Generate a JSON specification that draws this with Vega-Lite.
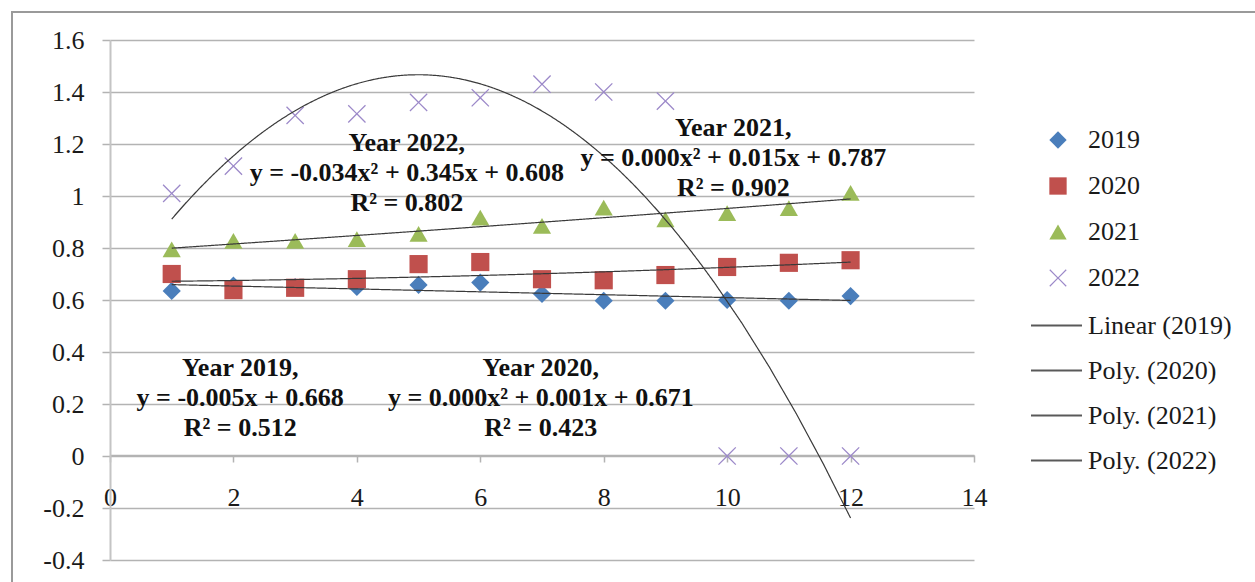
{
  "$schema": "https://vega.github.io/schema/vega-lite/v6.json",
  "width": 864,
  "height": 520,
  "autosize": {"type": "none"},
  "padding": {"left": 110, "top": 40, "right": 281, "bottom": 22},
  "background": "white",
  "config": {"view": {"stroke": null}, "font": "Liberation Serif"},
  "data": {
    "values": [
      {"x": 1, "v": 0.635, "year": "2019", "trend": "Linear (2019)"},
      {"x": 2, "v": 0.655, "year": "2019", "trend": "Linear (2019)"},
      {"x": 3, "v": 0.65, "year": "2019", "trend": "Linear (2019)"},
      {"x": 4, "v": 0.65, "year": "2019", "trend": "Linear (2019)"},
      {"x": 5, "v": 0.658, "year": "2019", "trend": "Linear (2019)"},
      {"x": 6, "v": 0.667, "year": "2019", "trend": "Linear (2019)"},
      {"x": 7, "v": 0.623, "year": "2019", "trend": "Linear (2019)"},
      {"x": 8, "v": 0.597, "year": "2019", "trend": "Linear (2019)"},
      {"x": 9, "v": 0.597, "year": "2019", "trend": "Linear (2019)"},
      {"x": 10, "v": 0.6, "year": "2019", "trend": "Linear (2019)"},
      {"x": 11, "v": 0.597, "year": "2019", "trend": "Linear (2019)"},
      {"x": 12, "v": 0.615, "year": "2019", "trend": "Linear (2019)"},
      {"x": 1, "v": 0.7, "year": "2020", "trend": "Poly. (2020)"},
      {"x": 2, "v": 0.638, "year": "2020", "trend": "Poly. (2020)"},
      {"x": 3, "v": 0.647, "year": "2020", "trend": "Poly. (2020)"},
      {"x": 4, "v": 0.68, "year": "2020", "trend": "Poly. (2020)"},
      {"x": 5, "v": 0.738, "year": "2020", "trend": "Poly. (2020)"},
      {"x": 6, "v": 0.746, "year": "2020", "trend": "Poly. (2020)"},
      {"x": 7, "v": 0.68, "year": "2020", "trend": "Poly. (2020)"},
      {"x": 8, "v": 0.676, "year": "2020", "trend": "Poly. (2020)"},
      {"x": 9, "v": 0.696, "year": "2020", "trend": "Poly. (2020)"},
      {"x": 10, "v": 0.727, "year": "2020", "trend": "Poly. (2020)"},
      {"x": 11, "v": 0.743, "year": "2020", "trend": "Poly. (2020)"},
      {"x": 12, "v": 0.753, "year": "2020", "trend": "Poly. (2020)"},
      {"x": 1, "v": 0.795, "year": "2021", "trend": "Poly. (2021)"},
      {"x": 2, "v": 0.827, "year": "2021", "trend": "Poly. (2021)"},
      {"x": 3, "v": 0.827, "year": "2021", "trend": "Poly. (2021)"},
      {"x": 4, "v": 0.834, "year": "2021", "trend": "Poly. (2021)"},
      {"x": 5, "v": 0.854, "year": "2021", "trend": "Poly. (2021)"},
      {"x": 6, "v": 0.917, "year": "2021", "trend": "Poly. (2021)"},
      {"x": 7, "v": 0.885, "year": "2021", "trend": "Poly. (2021)"},
      {"x": 8, "v": 0.955, "year": "2021", "trend": "Poly. (2021)"},
      {"x": 9, "v": 0.91, "year": "2021", "trend": "Poly. (2021)"},
      {"x": 10, "v": 0.934, "year": "2021", "trend": "Poly. (2021)"},
      {"x": 11, "v": 0.953, "year": "2021", "trend": "Poly. (2021)"},
      {"x": 12, "v": 1.012, "year": "2021", "trend": "Poly. (2021)"},
      {"x": 1, "v": 1.01, "year": "2022", "trend": "Poly. (2022)"},
      {"x": 2, "v": 1.115, "year": "2022", "trend": "Poly. (2022)"},
      {"x": 3, "v": 1.31, "year": "2022", "trend": "Poly. (2022)"},
      {"x": 4, "v": 1.316, "year": "2022", "trend": "Poly. (2022)"},
      {"x": 5, "v": 1.36, "year": "2022", "trend": "Poly. (2022)"},
      {"x": 6, "v": 1.378, "year": "2022", "trend": "Poly. (2022)"},
      {"x": 7, "v": 1.43, "year": "2022", "trend": "Poly. (2022)"},
      {"x": 8, "v": 1.4, "year": "2022", "trend": "Poly. (2022)"},
      {"x": 9, "v": 1.365, "year": "2022", "trend": "Poly. (2022)"},
      {"x": 10, "v": 0, "year": "2022", "trend": "Poly. (2022)"},
      {"x": 11, "v": 0, "year": "2022", "trend": "Poly. (2022)"},
      {"x": 12, "v": 0, "year": "2022", "trend": "Poly. (2022)"}
    ]
  },
  "layer": [
    {
      "data": {"values": [{"frame": 1}]},
      "mark": {"type": "rect", "filled": false, "stroke": "#9a9a9a", "strokeWidth": 2, "clip": false},
      "encoding": {
        "x": {"datum": -1.588, "type": "quantitative", "scale": {"domain": [0, 14], "nice": false, "zero": false}},
        "x2": {"datum": 18.7},
        "y": {"datum": 1.708, "type": "quantitative", "scale": {"domain": [-0.4, 1.6], "nice": false, "zero": false}},
        "y2": {"datum": -0.55}
      }
    },
    {
      "mark": {"type": "point", "filled": true, "size": 330, "opacity": 1},
      "encoding": {
        "x": {
          "field": "x", "type": "quantitative",
          "scale": {"domain": [0, 14], "nice": false, "zero": false},
          "axis": {
            "values": [0, 2, 4, 6, 8, 10, 12, 14],
            "labelExpr": "'' + datum.value",
            "title": null, "grid": false, "offset": -105,
            "domainColor": "#b3b3b3", "domainWidth": 1.5,
            "tickColor": "#b3b3b3", "tickWidth": 1.5, "tickSize": 7,
            "labelPadding": 22, "labelFont": "Liberation Serif", "labelFontSize": 26,
            "labelColor": "#1a1a1a", "labelFlush": false, "labelOverlap": false
          }
        },
        "y": {
          "field": "v", "type": "quantitative",
          "scale": {"domain": [-0.4, 1.6], "nice": false, "zero": false},
          "axis": {
            "values": [-0.4, -0.2, 0, 0.2, 0.4, 0.6, 0.8, 1, 1.2, 1.4, 1.6],
            "labelExpr": "'' + datum.value",
            "title": null, "grid": true,
            "gridColor": "#b3b3b3", "gridWidth": 1.5,
            "domainColor": "#c4c4c4", "domainWidth": 2,
            "tickColor": "#b3b3b3", "tickWidth": 1.5, "tickSize": 8,
            "labelPadding": 18, "labelFont": "Liberation Serif", "labelFontSize": 26,
            "labelColor": "#1a1a1a", "labelFlush": false, "labelOverlap": false
          }
        },
        "color": {
          "field": "year", "type": "nominal",
          "scale": {"domain": ["2019", "2020", "2021", "2022"], "range": ["#4a7ebb", "#c0504d", "#9bbb59", "#9c89c9"]},
          "legend": {"orient": "none", "legendX": 935, "legendY": 87, "title": null, "labelFont": "Liberation Serif", "labelFontSize": 26, "labelColor": "#1a1a1a", "symbolSize": 300, "labelOffset": 17, "rowPadding": 20, "padding": 0}
        },
        "shape": {
          "field": "year", "type": "nominal",
          "scale": {"domain": ["2019", "2020", "2021", "2022"], "range": ["diamond", "square", "triangle-up", "M-1,-0.9L-0.9,-1L0,-0.1L0.9,-1L1,-0.9L0.1,0L1,0.9L0.9,1L0,0.1L-0.9,1L-1,0.9L-0.1,0Z"]},
          "legend": {"orient": "none", "legendX": 935, "legendY": 87, "title": null, "labelFont": "Liberation Serif", "labelFontSize": 26, "labelColor": "#1a1a1a", "symbolSize": 300, "labelOffset": 17, "rowPadding": 20, "padding": 0}
        }
      }
    },
    {
      "transform": [
        {"filter": "datum.year == '2019'"},
        {"regression": "v", "on": "x", "groupby": ["trend"], "method": "linear"}
      ],
      "mark": {"type": "line", "color": "#3a3a3a", "strokeWidth": 1.2},
      "encoding": {
        "x": {"field": "x", "type": "quantitative", "scale": {"domain": [0, 14], "nice": false, "zero": false}},
        "y": {"field": "v", "type": "quantitative", "scale": {"domain": [-0.4, 1.6], "nice": false, "zero": false}},
        "strokeDash": {
          "field": "trend", "type": "nominal",
          "scale": {"domain": ["Linear (2019)", "Poly. (2020)", "Poly. (2021)", "Poly. (2022)"], "range": [[1, 0], [1, 0], [1, 0], [1, 0]]},
          "legend": {"orient": "none", "legendX": 920, "legendY": 259, "title": null, "labelFont": "Liberation Serif", "labelFontSize": 26, "labelColor": "#1a1a1a", "symbolType": "stroke", "symbolSize": 2600, "symbolStrokeColor": "#595959", "symbolStrokeWidth": 2, "labelOffset": 5, "rowPadding": 5, "padding": 0}
        }
      }
    },
    {
      "transform": [
        {"filter": "datum.year != '2019'"},
        {"regression": "v", "on": "x", "groupby": ["trend"], "method": "poly", "order": 2}
      ],
      "mark": {"type": "line", "color": "#3a3a3a", "strokeWidth": 1.2},
      "encoding": {
        "x": {"field": "x", "type": "quantitative", "scale": {"domain": [0, 14], "nice": false, "zero": false}},
        "y": {"field": "v", "type": "quantitative", "scale": {"domain": [-0.4, 1.6], "nice": false, "zero": false}},
        "strokeDash": {
          "field": "trend", "type": "nominal",
          "scale": {"domain": ["Linear (2019)", "Poly. (2020)", "Poly. (2021)", "Poly. (2022)"], "range": [[1, 0], [1, 0], [1, 0], [1, 0]]},
          "legend": {"orient": "none", "legendX": 920, "legendY": 259, "title": null, "labelFont": "Liberation Serif", "labelFontSize": 26, "labelColor": "#1a1a1a", "symbolType": "stroke", "symbolSize": 2600, "symbolStrokeColor": "#595959", "symbolStrokeWidth": 2, "labelOffset": 5, "rowPadding": 5, "padding": 0}
        }
      }
    },
    {
      "data": {
        "values": [
          {"x": 4.81, "v": 1.204, "label": "Year 2022,\ny = -0.034x² + 0.345x + 0.608\nR² = 0.802"},
          {"x": 10.1, "v": 1.2615, "label": "Year 2021,\ny = 0.000x² + 0.015x + 0.787\nR² = 0.902"},
          {"x": 2.11, "v": 0.3385, "label": "Year 2019,\ny = -0.005x + 0.668\nR² = 0.512"},
          {"x": 6.98, "v": 0.3385, "label": "Year 2020,\ny = 0.000x² + 0.001x + 0.671\nR² = 0.423"}
        ]
      },
      "mark": {"type": "text", "font": "Liberation Serif", "fontWeight": "bold", "fontSize": 26, "lineBreak": "\n", "lineHeight": 30, "align": "center", "baseline": "middle", "color": "#111"},
      "encoding": {
        "x": {"field": "x", "type": "quantitative", "scale": {"domain": [0, 14], "nice": false, "zero": false}},
        "y": {"field": "v", "type": "quantitative", "scale": {"domain": [-0.4, 1.6], "nice": false, "zero": false}},
        "text": {"field": "label", "type": "nominal"}
      }
    }
  ]
}
